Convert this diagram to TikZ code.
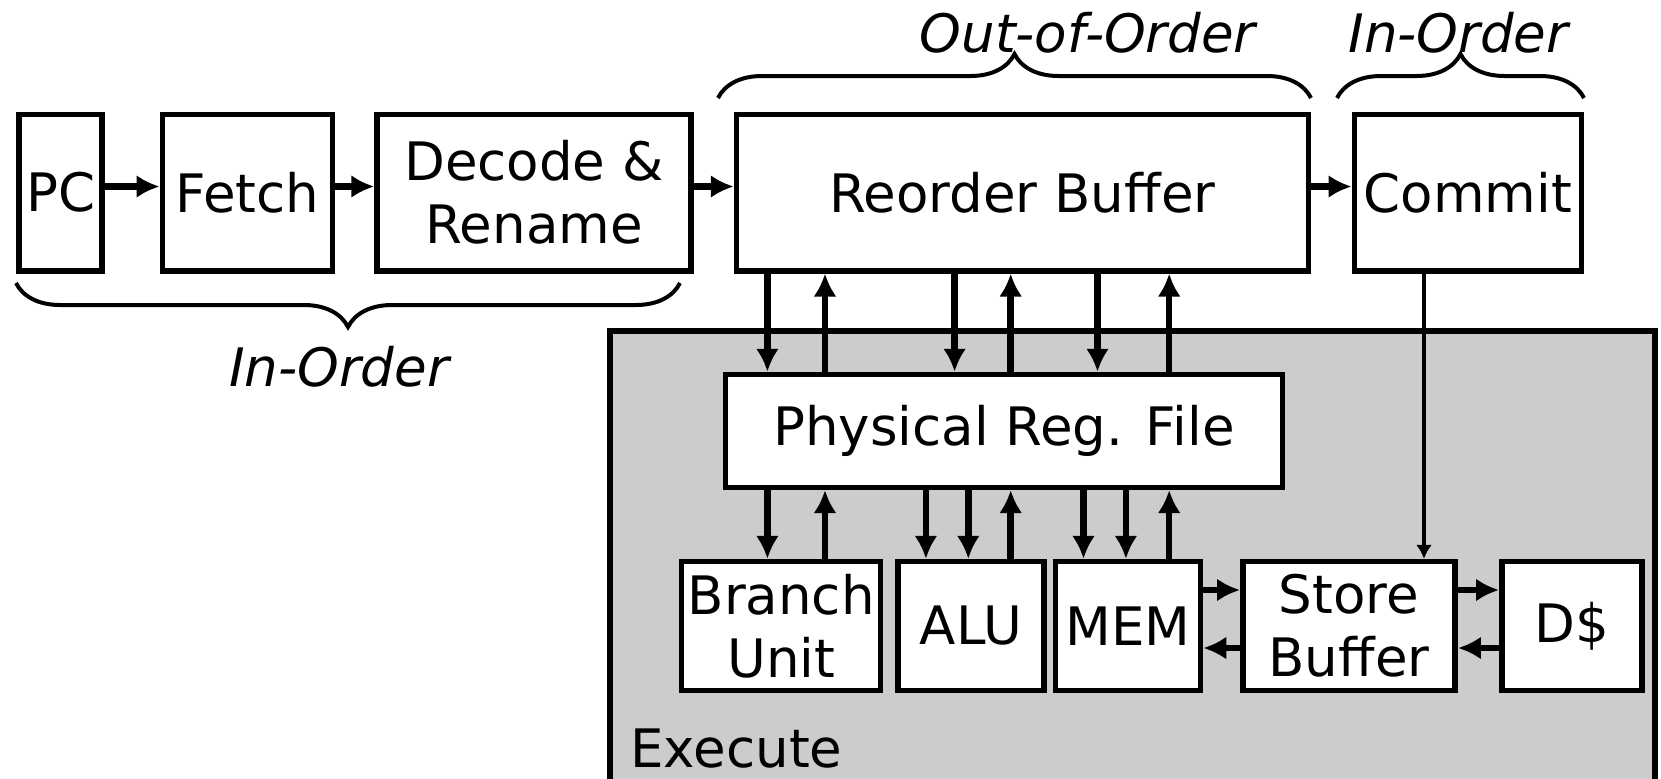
\documentclass[tikz,border=0pt]{standalone}
\usepackage{fontspec}
\setmainfont{DejaVu Sans}
\usetikzlibrary{arrows.meta,decorations.pathreplacing}

\begin{document}
\begin{tikzpicture}[x=0.5pt, y=-0.5pt,
  blk/.style={draw, line width=2.75pt, fill=white, align=center, inner sep=0pt,
    font=\fontsize{26.5}{31.5}\selectfont},
  arr/.style={line width=3.25pt, -{Latex[length=11.5pt,width=11.5pt]}},
  thinarr/.style={line width=1.6pt, -{Latex[length=7pt,width=8pt]}},
  brc/.style={decorate, decoration={brace, amplitude=22pt}, line width=2pt},
  lbl/.style={font=\fontsize{26.5}{31.5}\selectfont\itshape, anchor=base, inner sep=0pt}]
  \clip (0,0) rectangle (1661,778);
  % Execute 区域
  \node[draw, line width=3pt, fill=gray!40, inner sep=0pt, anchor=north west,
    minimum width=522.5pt, minimum height=290pt] (exec) at (607,328) {};
  \node[anchor=base west, inner sep=0pt, font=\fontsize{26.5}{31.5}\selectfont] (execlbl) at (630,767) {Execute};
  % 前端
  \node[blk, minimum width=41.4pt, minimum height=78.25pt] (pc) at (60.6,192.5) {PC};
  \node[blk, minimum width=85pt, minimum height=78.25pt] (fetch) at (247.3,192.5) {Fetch};
  \node[blk, minimum width=157pt, minimum height=78.25pt] (dec) at (534,192.5) {Decode \&\\Rename};
  \node[blk, minimum width=285.9pt, minimum height=78.25pt] (rob) at (1022.4,192.5) {Reorder Buffer};
  \node[blk, minimum width=113.7pt, minimum height=78.25pt] (commit) at (1468,192.5) {Commit};
  \draw[arr] ([yshift=3pt]pc.east) -- ([yshift=3pt]fetch.west);
  \draw[arr] ([yshift=3pt]fetch.east) -- ([yshift=3pt]dec.west);
  \draw[arr] ([yshift=3pt]dec.east) -- ([yshift=3pt]rob.west);
  \draw[arr] ([yshift=3pt]rob.east) -- ([yshift=3pt]commit.west);
  % 寄存器堆与执行单元
  \node[blk, minimum width=278.5pt, minimum height=56.4pt] (prf) at (1004,430.9) {Physical Reg. File};
  \node[blk, minimum width=99.5pt, minimum height=64.4pt] (bru) at (781.2,626) {Branch\\Unit};
  \node[blk, minimum width=73pt, minimum height=64.4pt] (alu) at (970.8,626) {ALU};
  \node[blk, minimum width=72.4pt, minimum height=64.4pt] (mem) at (1128.1,626) {MEM};
  \node[blk, minimum width=106.2pt, minimum height=64.4pt] (sb) at (1349,626) {Store\\Buffer};
  \node[blk, minimum width=70.2pt, minimum height=64.4pt] (dc) at (1572,626) {D\$};
  % ROB <-> PRF
  \draw[arr] (767.4,0 |- rob.south) -- (767.4,0 |- prf.north);
  \draw[arr] (825,0 |- prf.north) -- (825,0 |- rob.south);
  \draw[arr] (954.6,0 |- rob.south) -- (954.6,0 |- prf.north);
  \draw[arr] (1010.7,0 |- prf.north) -- (1010.7,0 |- rob.south);
  \draw[arr] (1097.5,0 |- rob.south) -- (1097.5,0 |- prf.north);
  \draw[arr] (1169.2,0 |- prf.north) -- (1169.2,0 |- rob.south);
  % PRF <-> 单元
  \draw[arr] (767.4,0 |- prf.south) -- (767.4,0 |- bru.north);
  \draw[arr] (825,0 |- bru.north) -- (825,0 |- prf.south);
  \draw[arr] (925.9,0 |- prf.south) -- (925.9,0 |- alu.north);
  \draw[arr] (968.3,0 |- prf.south) -- (968.3,0 |- alu.north);
  \draw[arr] (1010.7,0 |- alu.north) -- (1010.7,0 |- prf.south);
  \draw[arr] (1083.5,0 |- prf.south) -- (1083.5,0 |- mem.north);
  \draw[arr] (1125.9,0 |- prf.south) -- (1125.9,0 |- mem.north);
  \draw[arr] (1169.2,0 |- mem.north) -- (1169.2,0 |- prf.south);
  % 存储路径
  \draw[thinarr] (1424,0 |- commit.south) -- (1424,0 |- sb.north);
  \draw[arr] (mem.east |- 0,590) -- (sb.west |- 0,590);
  \draw[arr] (sb.west |- 0,648) -- (mem.east |- 0,648);
  \draw[arr] (sb.east |- 0,590) -- (dc.west |- 0,590);
  \draw[arr] (dc.west |- 0,648) -- (sb.east |- 0,648);
  % 括号
  \coordinate (ioL) at (16,283);
  \coordinate (ioR) at (680,283);
  \coordinate (oooL) at (718,98);
  \coordinate (oooR) at (1311,98);
  \coordinate (itL) at (1337,98);
  \coordinate (itR) at (1584,98);
  \draw[brc] (ioR) -- (ioL);
  \draw[brc] (oooL) -- (oooR);
  \draw[brc] (itL) -- (itR);
  \node[lbl] (iolbl) at (339,386.6) {In-Order};
  \node[lbl] (ooolbl) at (1087.7,52) {Out-of-Order};
  \node[lbl] (itlbl) at (1458.4,52) {In-Order};
\end{tikzpicture}
\end{document}
